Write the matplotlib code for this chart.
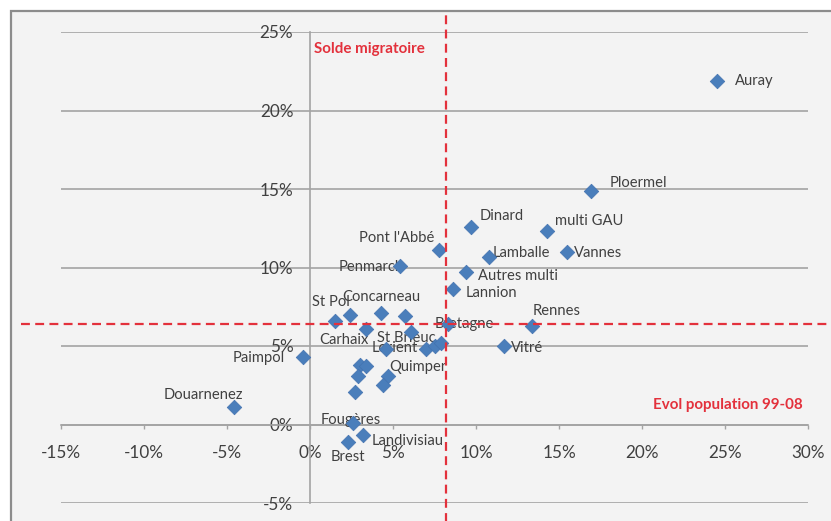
import matplotlib
matplotlib.use("Agg")
import matplotlib.pyplot as plt
from matplotlib.patches import Rectangle
from matplotlib.ticker import FuncFormatter, MultipleLocator

# ---------------- data (percent) ----------------
names = ["Auray", "Ploermel", "multi GAU", "Vannes", "Dinard", "Lamballe",
         "Autres multi", "Lannion", "Pont l'Abbé", "Penmarch", "Rennes", "Vitré",
         "Bretagne", "St Pol", "", "Concarneau", "", "Carhaix", "St Brieuc",
         "Lorient", "", "", "", "Paimpol", "", "", "", "", "Quimper", "",
         "Fougères", "Landivisiau", "Brest", "Douarnenez"]
evol_pop = [24.5, 16.9, 14.3, 15.5, 9.7, 10.8,
            9.4, 8.6, 7.8, 5.4, 13.4, 11.7,
            8.3, 1.5, 2.4, 4.3, 5.7, 3.4, 6.1,
            4.6, 7.0, 7.5, 7.9, -0.4, 3.0, 3.4, 2.9, 2.7, 4.7, 4.4,
            2.6, 3.2, 2.3, -4.6]
solde_mig = [21.9, 14.9, 12.3, 11.0, 12.6, 10.7,
             9.7, 8.6, 11.1, 10.1, 6.3, 5.0,
             6.4, 6.6, 7.0, 7.1, 6.9, 6.1, 5.9,
             4.8, 4.8, 5.0, 5.2, 4.3, 3.8, 3.7, 3.1, 2.1, 3.1, 2.5,
             0.1, -0.7, -1.1, 1.1]
ref_x = 8.2   # vertical reference (Solde migratoire)
ref_y = 6.4   # horizontal reference (Evol population 99-08)

# label offsets in pixels (layout only)
label_offsets = {
    "Auray": (38, 0), "Ploermel": (48, 8), "multi GAU": (42, 10),
    "Vannes": (31, -1), "Dinard": (31, 11), "Lamballe": (32, 4),
    "Autres multi": (52, -4), "Lannion": (39, -4), "Pont l'Abbé": (-43, 12),
    "Penmarch": (-28, -1), "Rennes": (24, 15), "Vitré": (23, -2),
    "Bretagne": (17, 0), "St Pol": (-4, 19), "Concarneau": (0, 16),
    "Carhaix": (-23, -11), "St Brieuc": (-5, -6), "Lorient": (8, 1),
    "Paimpol": (-45, -1), "Quimper": (30, 9), "Fougères": (-2, 3),
    "Landivisiau": (45, -6), "Brest": (0, -15), "Douarnenez": (-30, 12),
}

plt.rcParams['font.family'] = ['Lato', 'DejaVu Sans']

W, H = 831, 521
fig = plt.figure(figsize=(W / 100, H / 100), dpi=100)
fig.patch.set_facecolor('white')

# chart frame (background axes)
bg = fig.add_axes([0, 0, 1, 1], zorder=0)
bg.set_xlim(0, W)
bg.set_ylim(H, 0)
bg.axis('off')
bg.add_patch(Rectangle((11, 11), W + 20, H + 20, facecolor='#f3f3f3',
                       edgecolor='#8c8c8c', linewidth=1.6))

ax = fig.add_axes([61 / W, 18 / H, 747 / W, 471 / H], zorder=1)
ax.set_facecolor('none')
ax.set_xlim(-15, 30)
ax.set_ylim(-5, 25)

ax.xaxis.set_major_locator(MultipleLocator(5))
ax.yaxis.set_major_locator(MultipleLocator(5))
fmt = FuncFormatter(lambda v, p: f"{v:.0f}%")
ax.xaxis.set_major_formatter(fmt)
ax.yaxis.set_major_formatter(fmt)

ax.yaxis.grid(True, color='#a3a3a3', linewidth=1.2, zorder=1)
ax.set_axisbelow(True)
for s in ('top', 'right'):
    ax.spines[s].set_visible(False)
ax.spines['left'].set_position(('data', 0))
ax.spines['bottom'].set_position(('data', 0))
ax.spines['left'].set_color('#a3a3a3')
ax.spines['bottom'].set_color('#a3a3a3')
ax.spines['left'].set_linewidth(1.2)
ax.spines['bottom'].set_linewidth(1.2)
ax.tick_params(axis='x', direction='out', length=3, width=1, color='#a3a3a3',
               pad=12, labelsize=12.3, labelcolor='#404040')
ax.tick_params(axis='y', length=0, pad=12, labelsize=12.3, labelcolor='#404040')

ax.scatter(evol_pop, solde_mig, marker='D', s=55, color='#4a7ebb',
           edgecolor='#4372b0', linewidth=0.5, zorder=4, clip_on=False)

for n, xv, yv in zip(names, evol_pop, solde_mig):
    if not n:
        continue
    dx, dy = label_offsets.get(n, (20, 0))
    ax.annotate(n, (xv, yv), xytext=(dx, dy), textcoords='offset pixels',
                ha='center', va='center', fontsize=10.6, color='#404040', zorder=3)

red = '#e3313c'
ax.axvline(ref_x, ymin=-0.04, ymax=1.042, color=red, linewidth=1.6,
           dashes=(4, 2.4), clip_on=False, zorder=6)
ax.axhline(ref_y, xmin=-0.053, xmax=1.1, color=red, linewidth=1.6,
           dashes=(4, 2.4), clip_on=False, zorder=6)

ax.annotate("Solde migratoire", (0, 25), xytext=(4, -17), textcoords='offset pixels',
            ha='left', va='center', fontsize=10.9, fontweight='bold', color=red)
ax.annotate("Evol population 99-08", (30, 0), xytext=(-5, 19), textcoords='offset pixels',
            ha='right', va='center', fontsize=10.9, fontweight='bold', color=red)

fig.savefig("out.png", dpi=100)
